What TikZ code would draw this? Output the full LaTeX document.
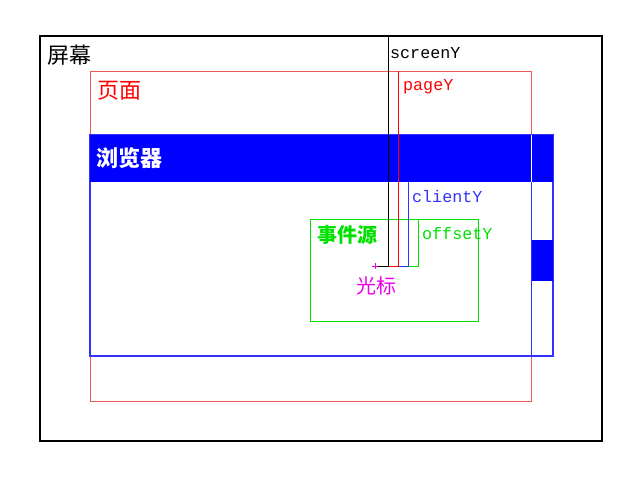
\documentclass[tikz,border=0pt]{standalone}
\usepackage{fontspec}
\setmonofont{Liberation Mono}
\newfontfamily\cjk{Noto Sans CJK SC}
\usepackage{xcolor}
\usepackage{tikz}
\usetikzlibrary{positioning}
\definecolor{pagered}{RGB}{240,90,90}
\definecolor{winblue}{RGB}{50,50,255}
\definecolor{srcgreen}{RGB}{0,225,0}
\definecolor{curmag}{RGB}{235,0,235}
\tikzstyle{box}= [rectangle, inner sep=0pt, outer sep=0pt, anchor=north west]
\tikzstyle{lab}= [inner sep=0pt, anchor=west]
\tikzstyle{cn}= [lab, font=\cjk\fontsize{22}{22}\selectfont]
\tikzstyle{cnsmall}= [lab, font=\cjk\fontsize{20}{20}\selectfont]
\tikzstyle{en}= [lab, font=\ttfamily\fontsize{16.7}{17}\selectfont]

\begin{document}
\begin{tikzpicture}[x=1pt, y=-1pt]
				\useasboundingbox (0,0) rectangle (640,480);
				\node[box, draw, line width=2pt, minimum width=562pt, minimum height=405pt] (screen) at (40,36) {};
				\node[box, draw=pagered, minimum width=441pt, minimum height=330pt] (page) at (90,71) {};
				\node[box, draw=winblue, line width=2pt, minimum width=463.5pt, minimum height=221pt] (browser) at (89.6,135) {};
				\node[box, fill=blue, minimum width=463.5pt, minimum height=47pt] (title) at (89.6,135) {};
				\node[box, fill=blue, minimum width=22pt, minimum height=41pt] (thumb) at (531,240) {};
				\node[box, draw=srcgreen, minimum width=168pt, minimum height=102pt] (source) at (310,219) {};
				% scrollbar
				\coordinate (bar) at (531,182);
				\draw[winblue] (bar) -- (bar |- browser.south);
				\draw[white] (bar) -- (bar |- title.north);
				% cursor and the four distances
				\coordinate (cur) at (375,266);
				\coordinate (sy) at (388,36);
				\coordinate (py) at (398,71);
				\coordinate (cy) at (408,182);
				\coordinate (oy) at (418,219);
				\draw[srcgreen] (oy) |- (cur);
				\draw[winblue] (cy) |- (cur);
				\draw[red] (py) |- (cur);
				\draw (sy) |- (cur);
				\draw[curmag] (cur) +(-3,0) -- +(3,0) +(0,-3) -- +(0,3);
				\node[cn] (screenlab) at (47,55) {屏幕};
				\node[cn, red] (pagelab) at (97,91) {页面};
				\node[cn, white, font=\cjk\bfseries\fontsize{22}{22}\selectfont] (browserlab) at (96,158) {浏览器};
				\node[cnsmall, srcgreen, font=\cjk\bfseries\fontsize{20}{20}\selectfont] (sourcelab) at (317,235) {事件源};
				\node[cnsmall, curmag] (cursorlab) at (356,286) {光标};
				\node[en] (screenY) at (390,53) {screenY};
				\node[en, red] (pageY) at (403,87) {pageY};
				\node[en, winblue] (clientY) at (412,197) {clientY};
				\node[en, srcgreen] (offsetY) at (422,234) {offsetY};
			\end{tikzpicture}
\end{document}
